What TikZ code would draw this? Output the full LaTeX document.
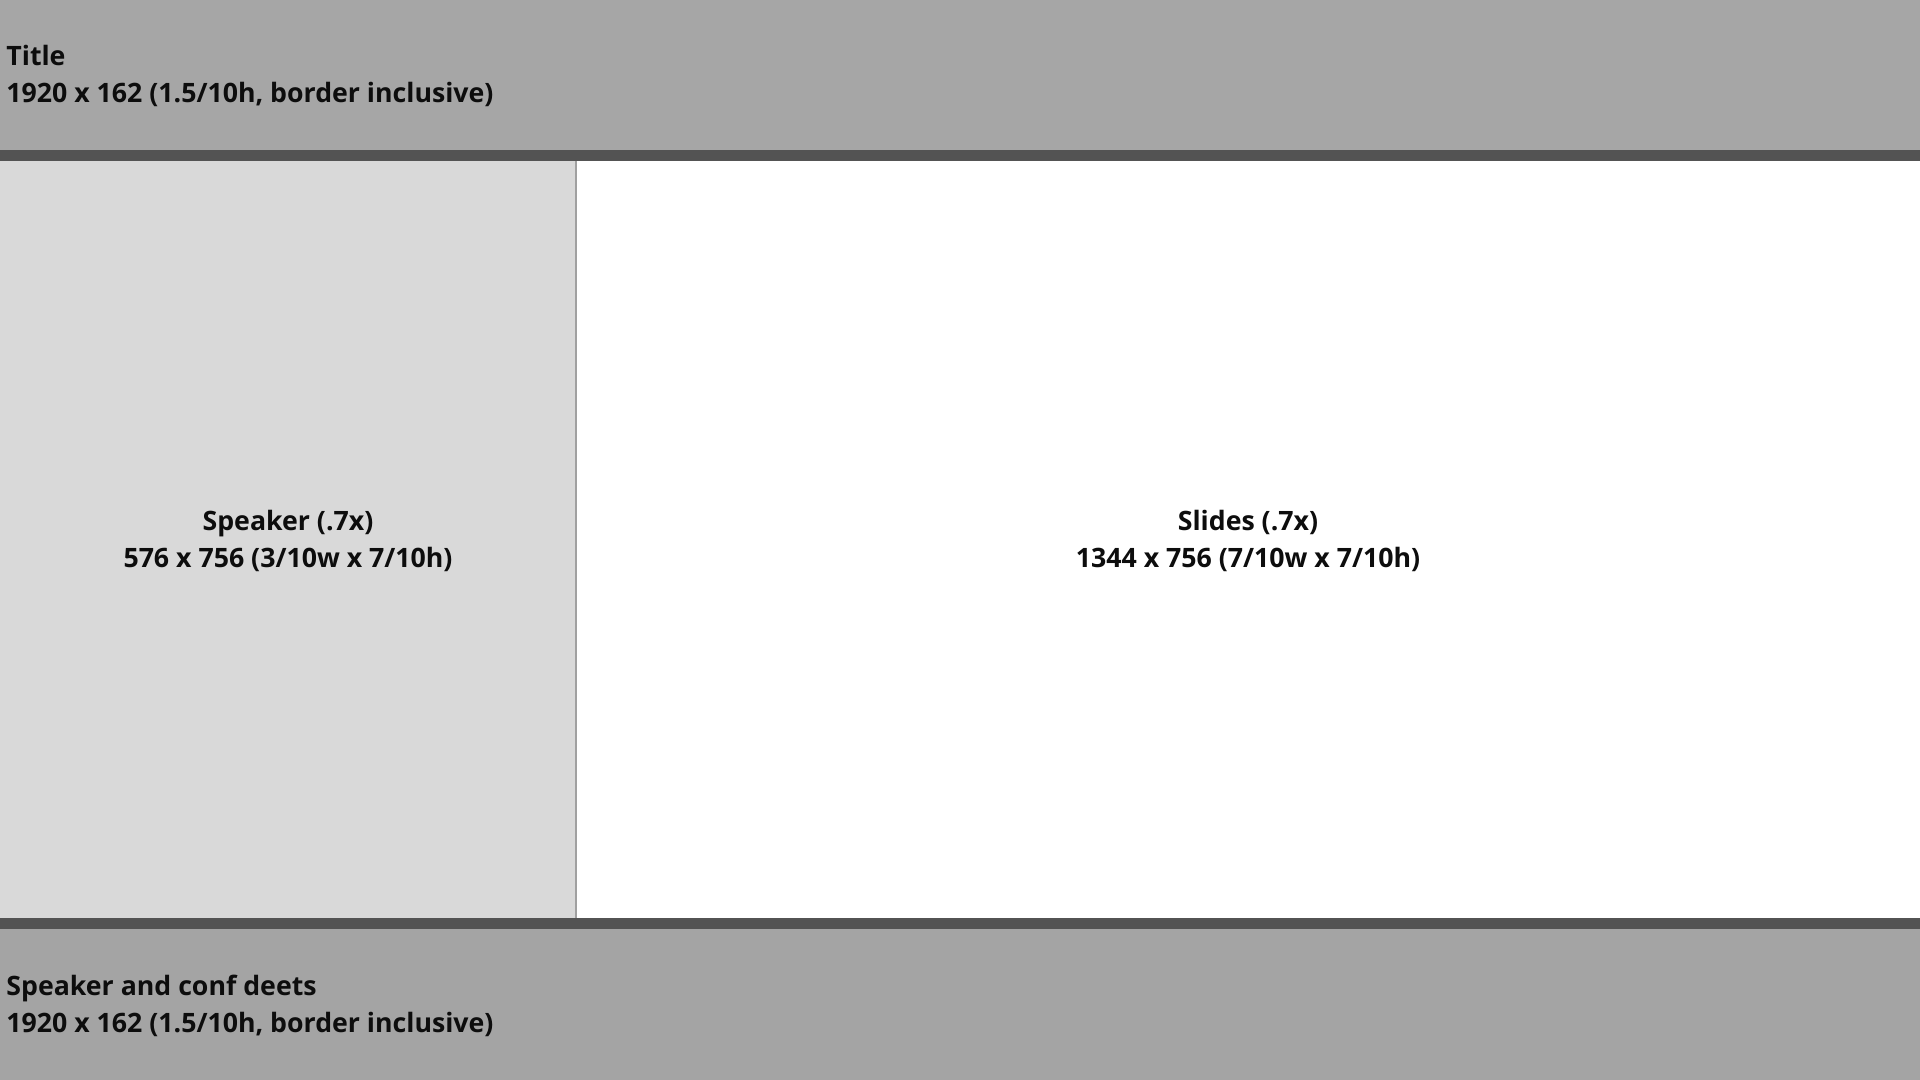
\documentclass[tikz,border=0pt]{standalone}
\usepackage{fontspec}
\setmainfont{Open Sans}[BoldFont={* Bold}]
\definecolor{band}{HTML}{A6A6A6}
\definecolor{rule}{HTML}{535353}
\definecolor{panel}{HTML}{D9D9D9}
\definecolor{sep}{HTML}{A0A0A0}
\definecolor{ink}{HTML}{0D0D0D}
\tikzset{
  lbl/.style={text=ink, font=\bfseries\fontsize{13.35}{18.5}\selectfont, inner sep=0pt, align=left},
  clbl/.style={lbl, align=center},
}
\begin{document}
\begin{tikzpicture}[x=0.5pt,y=-0.5pt]
\useasboundingbox (0,0) rectangle (1920,1080);
% bands
\fill[band] (0,0) rectangle (1920,150);
\fill[rule] (0,150) rectangle (1920,161);
\fill[panel] (0,161) rectangle (576,918);
\fill[white] (576,161) rectangle (1920,918);
\draw[sep, line width=0.6pt] (576,161) -- (576,918);
\fill[rule] (0,918) rectangle (1920,929);
\fill[band!99!black] (0,929) rectangle (1920,1080);
% labels
\node[lbl, anchor=west] (title) at (6,75.5) {Title\\1920 x 162 (1.5/10h, border inclusive)};
\node[clbl] (speaker) at (288,540.5) {Speaker (.7x)\\576 x 756 (3/10w x 7/10h)};
\node[clbl] (slides) at (1248,540.5) {Slides (.7x)\\1344 x 756 (7/10w x 7/10h)};
\node[lbl, anchor=west] (deets) at (6,1005.5) {Speaker and conf deets\\1920 x 162 (1.5/10h, border inclusive)};
\end{tikzpicture}
\end{document}
